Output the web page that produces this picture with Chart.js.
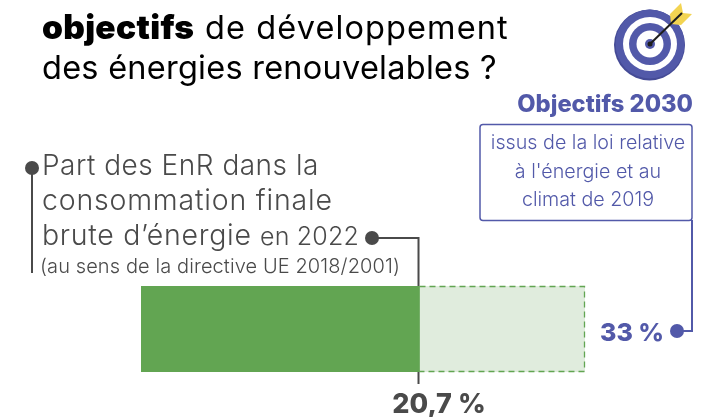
<!DOCTYPE html>
<html>
<head>
<meta charset="utf-8">
<script src="https://cdn.jsdelivr.net/npm/chart.js@4/dist/chart.umd.min.js"></script>
<style>
  html, body { margin: 0; padding: 0; background: #fff; }
  #wrap { width: 715px; height: 417px; }
</style>
</head>
<body>
<div id="wrap"><canvas id="myChart" width="715" height="417"></canvas></div>
<script>
// Chart data
const categories = ["Part des EnR"];
const partValues = [20.7];
const objectifValues = [33];
const partLabel = "20,7 %";
const objectifLabel = "33 %";

const DARK = "#4a4a4a";
const BLUE = "#5259a9";
const GREEN = "#62a552";
const FONT = "Inter";

function txt(ctx, str, x, y, size, color, weight, align, spacing) {
    ctx.font = `${weight || 400} ${size}px ${FONT}`;
    ctx.fontKerning = "normal";
    ctx.fillStyle = color;
    ctx.textAlign = align || "left";
    ctx.textBaseline = "alphabetic";
    ctx.letterSpacing = (spacing || 0) + "px";
    ctx.fillText(str, x, y);
    const w = ctx.measureText(str).width;
    ctx.letterSpacing = "0px";
    return w;
}

function dot(ctx, x, y, r, color) {
    ctx.beginPath();
    ctx.arc(x, y, r, 0, Math.PI * 2);
    ctx.fillStyle = color;
    ctx.fill();
}

function path(ctx, pts, color, lw) {
    ctx.beginPath();
    pts.forEach((p, i) => (i ? ctx.lineTo(p[0], p[1]) : ctx.moveTo(p[0], p[1])));
    ctx.strokeStyle = color;
    ctx.lineWidth = lw;
    ctx.stroke();
}

// target icon top right
function drawTarget(ctx) {
    const cx = 650, cy = 44;
    dot(ctx, cx - 0.5, cy + 1, 35.5, "#454b96");
    dot(ctx, cx, cy, 34.5, BLUE);
    dot(ctx, cx, cy, 27, "#fff");
    dot(ctx, cx, cy, 21, BLUE);
    dot(ctx, cx, cy, 13.5, "#fff");
    dot(ctx, cx, cy, 5, BLUE);
    ctx.fillStyle = "#f3d452";
    ctx.beginPath();
    ctx.moveTo(670, 14); ctx.lineTo(681, 3); ctx.lineTo(683, 13);
    ctx.lineTo(692, 14); ctx.lineTo(681, 25); ctx.lineTo(671, 24); ctx.closePath();
    ctx.fill();
    path(ctx, [[650, 44], [682, 13]], "#1e1e1e", 2);
    dot(ctx, 650, 44, 2.5, "#1e1e1e");
}

const annotations = {
    id: "annotations",
    afterDatasetsDraw(chart) {
        const { ctx } = chart;
        const part = chart.getDatasetMeta(1).data[0];
        const obj = chart.getDatasetMeta(0).data[0];
        const top = obj.y - obj.height / 2;
        const bottom = obj.y + obj.height / 2;
        ctx.save();

        // dashed outline of the 2030 target
        ctx.setLineDash([6, 4]);
        ctx.strokeStyle = GREEN;
        ctx.lineWidth = 1.3;
        ctx.beginPath();
        ctx.moveTo(part.x, top + 0.5);
        ctx.lineTo(obj.x - 0.5, top + 0.5);
        ctx.lineTo(obj.x - 0.5, bottom - 0.5);
        ctx.lineTo(part.x, bottom - 0.5);
        ctx.stroke();
        ctx.setLineDash([]);

        // title
        txt(ctx, "objectifs", 42, 39, 33.5, "#000", 900, "left", 0.3);
        txt(ctx, "de développement", 205, 39, 32.5, "#000", 400, "left", 1.1);
        txt(ctx, "des énergies renouvelables ?", 42, 79, 32.5, "#000", 400, "left", 0.25);

        // left label
        txt(ctx, "Part des EnR dans la", 42, 175, 28, DARK, 300, "left", 0.5);
        txt(ctx, "consommation finale", 42, 210, 28.5, DARK, 300, "left", 0.8);
        txt(ctx, "brute d’énergie", 42, 245, 28.5, DARK, 300, "left", 0.7);
        txt(ctx, "en 2022", 260, 245, 25, DARK, 300, "left", 0.2);
        txt(ctx, "(au sens de la directive UE 2018/2001)", 40, 273, 20, DARK, 300, "left", 0.1);

        // leaders of the left label
        dot(ctx, 32, 168, 7, DARK);
        path(ctx, [[32, 168], [32, 273]], DARK, 2);
        dot(ctx, 372, 238, 7, DARK);
        path(ctx, [[372, 238], [part.x - 1, 238], [part.x - 1, top]], DARK, 2);
        path(ctx, [[part.x - 1, bottom], [part.x - 1, 384]], DARK, 2);
        txt(ctx, partLabel, 439, 413, 27, DARK, 800, "center", 0);

        // objectifs block
        drawTarget(ctx);
        txt(ctx, "Objectifs 2030", 693, 112, 23.7, BLUE, 800, "right", 0);
        ctx.beginPath();
        ctx.roundRect(480, 124.5, 212, 96, 3);
        ctx.strokeStyle = BLUE;
        ctx.lineWidth = 1.5;
        ctx.stroke();
        txt(ctx, "issus de la loi relative", 588, 149, 19.7, BLUE, 300, "center", 0);
        txt(ctx, "à l'énergie et au", 588, 178, 19.7, BLUE, 300, "center", 0);
        txt(ctx, "climat de 2019", 588, 206, 19.7, BLUE, 300, "center", 0);
        path(ctx, [[692, 220], [692, 331], [677, 331]], BLUE, 2);
        dot(ctx, 677, 331, 7, BLUE);
        txt(ctx, objectifLabel, 664, 341, 25, BLUE, 800, "right", 0);

        ctx.restore();
    },
};

const myChart = new Chart("myChart", {
    type: "bar",
    data: {
        labels: categories,
        datasets: [
            {
                label: "Objectif 2030",
                data: objectifValues,
                backgroundColor: "#e0ecdd",
                grouped: false,
                order: 2,
            },
            {
                label: "Part en 2022",
                data: partValues,
                backgroundColor: GREEN,
                grouped: false,
                order: 1,
            },
        ],
    },
    options: {
        indexAxis: "y",
        responsive: false,
        animation: false,
        layout: { padding: { left: 141, right: 130, top: 286, bottom: 45 } },
        datasets: { bar: { barPercentage: 1, categoryPercentage: 1 } },
        scales: {
            x: { display: false, min: 0, max: 33 },
            y: { display: false },
        },
        plugins: {
            legend: { display: false },
            tooltip: { enabled: false },
        },
    },
    plugins: [annotations],
});
</script>
</body>
</html>
